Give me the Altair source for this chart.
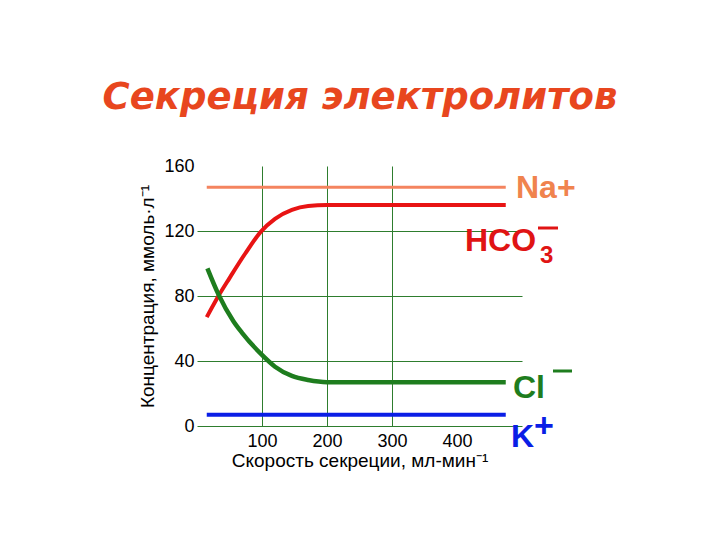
import altair as alt
import pandas as pd

# Data
na_x = [15, 475]
na_y = [147, 147]
hco3_x = [15, 33, 50, 74, 98, 120, 146, 171, 200, 475]
hco3_y = [67, 80, 91, 106, 119.5, 127.5, 133, 135.4, 136, 136]
cl_x = [16, 33, 56, 69, 98, 120, 146, 171, 200, 475]
cl_y = [97, 81, 64.5, 57.5, 44.5, 36.5, 30.8, 28.3, 27, 27]
k_x = [15, 475]
k_y = [7, 7]

series = ["Na+", "HCO3", "Cl", "K"]
colors = ["#F4845F", "#E81414", "#1E7D1E", "#0A1EE6"]
widths = [3, 4, 4.5, 4]

rows = []
for name, xs, ys in [("Na+", na_x, na_y), ("HCO3", hco3_x, hco3_y),
                     ("Cl", cl_x, cl_y), ("K", k_x, k_y)]:
    for i, (a, b) in enumerate(zip(xs, ys)):
        rows.append({"series": name, "x": a, "y": b, "order": i})
df = pd.DataFrame(rows)

x_ticks = [100, 200, 300, 400]
y_ticks = [0, 40, 80, 120, 160]
grid_green = "#2E7D2E"

base = alt.Chart(df)

lines = []
for name, col, w in zip(series, colors, widths):
    lines.append(
        base.transform_filter(alt.datum.series == name)
        .mark_line(color=col, strokeWidth=w, interpolate="monotone", strokeCap="butt")
        .encode(
            x=alt.X("x:Q", scale=alt.Scale(domain=[0, 500], nice=False),
                    axis=alt.Axis(values=x_ticks, title="Скорость секреции, мл-мин⁻¹",
                                  domain=False, ticks=False, labelPadding=6,
                                  labelFont="Liberation Sans", labelFontSize=18,
                                  labelColor="#000000",
                                  titleFont="Liberation Sans", titleFontSize=19,
                                  titleFontWeight="normal", titleColor="#000000",
                                  titlePadding=1,
                                  gridColor={"condition": {"test": "datum.value >= 400", "value": "transparent"},
                                             "value": grid_green},
                                  gridWidth=1)),
            y=alt.Y("y:Q", scale=alt.Scale(domain=[0, 160], nice=False),
                    axis=alt.Axis(values=y_ticks, title="Концентрация, ммоль·л⁻¹",
                                  domain=False, ticks=False, labelPadding=3,
                                  labelFont="Liberation Sans", labelFontSize=18,
                                  labelColor="#000000",
                                  titleFont="Liberation Sans", titleFontSize=19,
                                  titleFontWeight="normal", titleColor="#000000",
                                  titlePadding=6,
                                  gridColor={"condition": {"test": "datum.value >= 160", "value": "transparent"},
                                             "value": grid_green},
                                  gridWidth=1)),
            order="order:Q",
        )
    )

def label(text, x, y, color, size=32, align="left", baseline="alphabetic", weight="bold"):
    return alt.Chart(pd.DataFrame({"t": [text]})).mark_text(
        text=text, font="Liberation Sans", fontSize=size, fontWeight=weight,
        color=color, align=align, baseline=baseline
    ).encode(x=alt.value(x), y=alt.value(y))

def bar(x1, x2, y, color):
    return alt.Chart(pd.DataFrame({"a": [0]})).mark_rule(color=color, strokeWidth=3).encode(
        x=alt.value(x1), x2=alt.value(x2), y=alt.value(y))

title = alt.Chart(pd.DataFrame({"t": ["Секреция электролитов"]})).mark_text(
    text="Секреция электролитов", font="DejaVu Sans", fontSize=37, fontWeight="bold",
    fontStyle="italic", color="#E8461E", align="center", baseline="alphabetic"
).encode(x=alt.value(163), y=alt.value(-57))

annots = [
    label("Na+", 319, 32, "#F0834E"),
    label("HCO", 268, 85, "#E01414"),
    label("3", 343, 97, "#E01414", size=24),
    bar(341, 361, 62, "#E01414"),
    label("Cl", 316, 232, "#1E7D1E"),
    bar(356, 375, 205, "#1E7D1E"),
    label("K", 314, 281, "#0A1EE6"),
    label("+", 347, 261, "#0A1EE6", size=34, align="center", baseline="middle"),
    title,
]

chart = alt.layer(*lines, *annots).properties(
    width=325, height=260,
    autosize=alt.AutoSizeParams(type="none"),
    padding={"left": 189, "top": 158, "right": 190, "bottom": 106},
    background="white",
).configure_view(stroke=None)

chart.save("out.html", embed_options={"renderer": "svg", "actions": False})
